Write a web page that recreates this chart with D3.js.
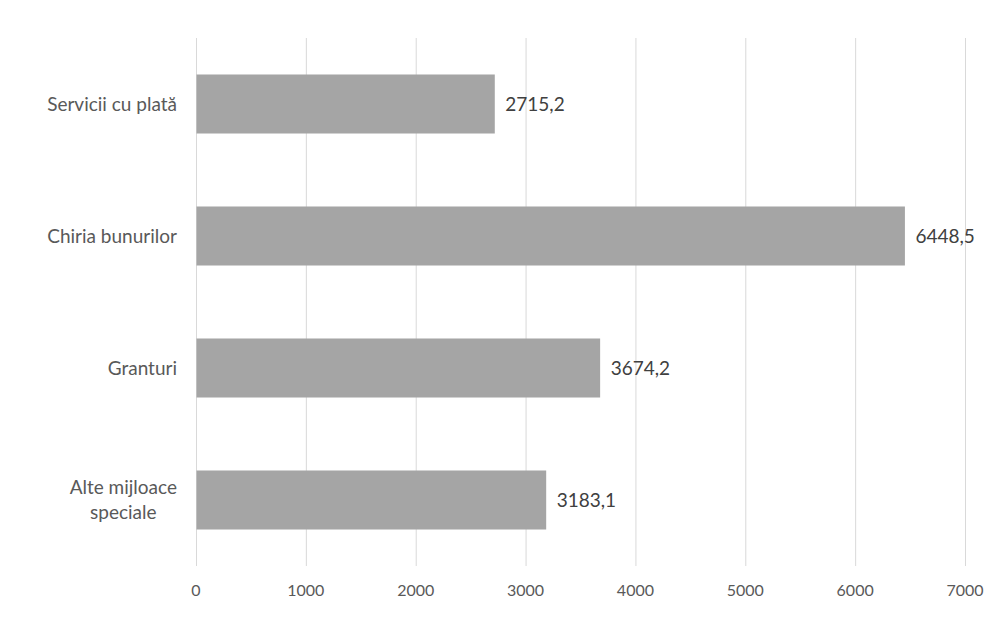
<!DOCTYPE html>
<html><head><meta charset="utf-8">
<script src="https://cdn.jsdelivr.net/npm/d3@7"></script>
<style>body{margin:0;background:#fff;} svg{display:block;}</style>
</head><body>
<svg id="c" width="1008" height="625"></svg>
<script>
const categories = [["Servicii cu plată"], ["Chiria bunurilor"], ["Granturi"], ["Alte mijloace", "speciale"]];
const values = [2715.2, 6448.5, 3674.2, 3183.1];
const valueLabels = ["2715,2", "6448,5", "3674,2", "3183,1"];
const ticks = [0, 1000, 2000, 3000, 4000, 5000, 6000, 7000];

const svg = d3.select("#c");
const mLeft = 196, mRight = 965, mTop = 38, mBottom = 566;
const x = d3.scaleLinear().domain([0, 7000]).range([mLeft, mRight]);
const y = d3.scaleBand().domain(d3.range(categories.length)).range([mTop, mBottom]).paddingInner(0.553).paddingOuter(0.2765);
const font = "Lato, 'Open Sans', sans-serif";

svg.append("g").selectAll("line").data(ticks).join("line")
  .attr("x1", d => x(d) + 0.5).attr("x2", d => x(d) + 0.5)
  .attr("y1", mTop).attr("y2", mBottom)
  .attr("stroke", "#d9d9d9").attr("stroke-width", 1);

svg.append("g").selectAll("rect").data(values).join("rect")
  .attr("x", x(0) + 0.5).attr("y", (d, i) => y(i))
  .attr("width", d => x(d) - x(0)).attr("height", y.bandwidth())
  .attr("fill", "#a5a5a5");

svg.append("g").selectAll("text").data(valueLabels).join("text")
  .attr("x", (d, i) => x(values[i]) + 11)
  .attr("y", (d, i) => y(i) + y.bandwidth() / 2)
  .attr("dy", "0.35em")
  .attr("font-family", font).attr("font-size", 19).attr("fill", "#404040")
  .text(d => d);

const cat = svg.append("g").selectAll("text").data(categories).join("text")
  .attr("text-anchor", "middle")
  .attr("font-family", font).attr("font-size", 19).attr("fill", "#595959");
cat.each(function(lines, i) {
  const t = d3.select(this);
  const cy = y(i) + y.bandwidth() / 2;
  const lh = 25;
  lines.forEach((ln, k) => {
    t.append("tspan").attr("x", 0).attr("y", cy + (k - (lines.length - 1) / 2) * lh).attr("dy", "0.35em").text(ln);
  });
});
cat.each(function() {
  const bb = this.getBBox();
  const shift = 177 - (bb.x + bb.width);
  d3.select(this).attr("transform", `translate(${shift},0)`);
});

svg.append("g").selectAll("text").data(ticks).join("text")
  .attr("x", d => x(d)).attr("y", 590).attr("dy", "0.35em")
  .attr("text-anchor", "middle")
  .attr("font-family", font).attr("font-size", 16).attr("fill", "#595959")
  .text(d => d);
</script>
</body></html>
